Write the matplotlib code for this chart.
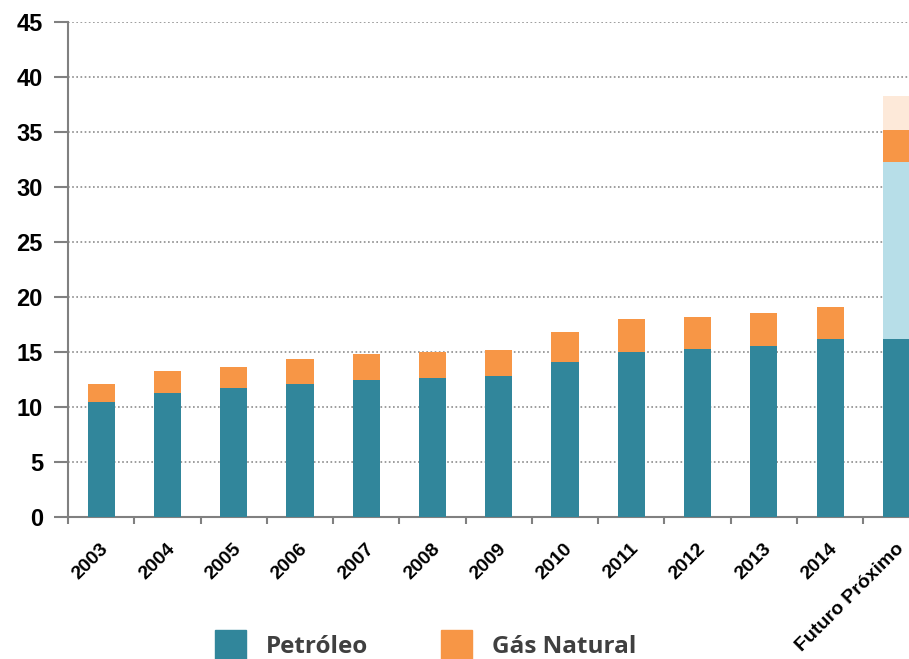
import numpy as np
import matplotlib
matplotlib.use("Agg")
import matplotlib.pyplot as plt
import matplotlib.transforms as mtransforms
from matplotlib.patches import Patch

# valores
categorias = ['2003', '2004', '2005', '2006', '2007', '2008', '2009',
              '2010', '2011', '2012', '2013', '2014', 'Futuro Próximo']
petroleo = [10.5, 11.25, 11.75, 12.1, 12.45, 12.65, 12.8,
            14.1, 15.05, 15.25, 15.6, 16.15, 16.15]
gas_natural = [1.65, 2.0, 1.9, 2.25, 2.35, 2.35, 2.4,
               2.7, 2.95, 2.95, 2.95, 2.95, 2.9]
petroleo_futuro = [0, 0, 0, 0, 0, 0, 0, 0, 0, 0, 0, 0, 16.15]
gas_futuro = [0, 0, 0, 0, 0, 0, 0, 0, 0, 0, 0, 0, 3.1]

c_pet = '#31869B'
c_gas = '#F79646'
c_pet_fut = '#B7DEE8'
c_gas_fut = '#FDE9D9'

fonte_eixo = ['Liberation Sans Narrow', 'Liberation Sans', 'DejaVu Sans']

fig = plt.figure(figsize=(9.09, 6.59), dpi=100)
ax = fig.add_axes([0.0748, 0.215, 0.9252, 0.752])

x = np.arange(len(categorias))
w = 0.41
pet = np.array(petroleo)
pf = np.array(petroleo_futuro)
gn = np.array(gas_natural)
gf = np.array(gas_futuro)

ax.bar(x, pet, w, color=c_pet, linewidth=0, zorder=3)
ax.bar(x, pf, w, bottom=pet, color=c_pet_fut, linewidth=0, zorder=3)
ax.bar(x, gn, w, bottom=pet + pf, color=c_gas, linewidth=0, zorder=3)
ax.bar(x, gf, w, bottom=pet + pf + gn, color=c_gas_fut, linewidth=0, zorder=3)

ax.set_yticks(np.arange(0, 46, 5))
ax.set_xticks(x)
ax.set_xticks(np.arange(-0.5, 12.6, 1), minor=True)
ax.set_ylim(0, 45)
ax.set_xlim(-0.5, 12.19)
ax.yaxis.grid(True, linestyle=(0, (1, 1.5)), color='#8c8c8c', linewidth=1.2, zorder=0)
ax.set_axisbelow(True)

for s in ['top', 'right']:
    ax.spines[s].set_visible(False)
for s in ['left', 'bottom']:
    ax.spines[s].set_color('#808080')
    ax.spines[s].set_linewidth(1.5)

ax.tick_params(axis='y', length=10, width=1.5, color='#808080', pad=8)
for lab in ax.get_yticklabels():
    lab.set_family(fonte_eixo)
    lab.set_fontweight('bold')
    lab.set_fontsize(17)

ax.tick_params(axis='x', which='major', length=0, pad=21)
ax.tick_params(axis='x', which='minor', length=5, width=1.5, color='#808080')
ax.set_xticklabels(categorias, rotation=45, ha='right', va='center',
                   rotation_mode='anchor', fontsize=14, fontweight='bold',
                   family=fonte_eixo)
desloc = mtransforms.ScaledTranslation(5 / 100, 0, fig.dpi_scale_trans)
for lab in ax.get_xticklabels():
    lab.set_transform(lab.get_transform() + desloc)

handles = [Patch(color=c_pet, label='Petróleo'), Patch(color=c_gas, label='Gás Natural')]
fig.legend(handles=handles, loc='center', bbox_to_anchor=(0.468, 0.022), ncol=2,
           frameon=False, handlelength=1.28, handleheight=1.45, columnspacing=3.0,
           handletextpad=0.82,
           prop={'family': ['Open Sans', 'DejaVu Sans'], 'weight': 'bold', 'size': 17.5})
for t in fig.legends[0].get_texts():
    t.set_color('#404040')

fig.savefig('out.png', dpi=100)
